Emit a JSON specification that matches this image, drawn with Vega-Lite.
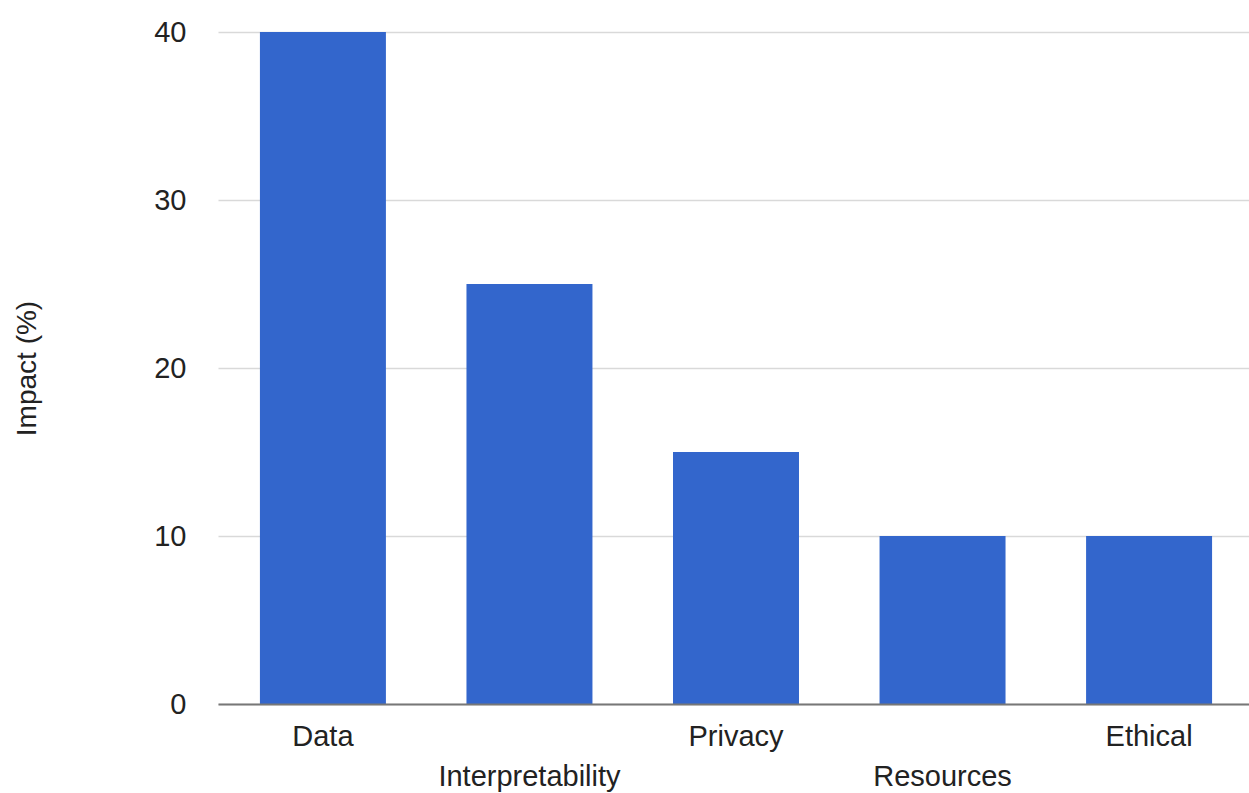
{
  "$schema": "https://vega.github.io/schema/vega-lite/v6.json",
  "width": 1036,
  "height": 672,
  "autosize": "none",
  "padding": {"left": 218, "top": 32, "right": 0, "bottom": 89},
  "background": "white",
  "data": {
    "values": [
      {"category": "Data", "impact": 40},
      {"category": "Interpretability", "impact": 25},
      {"category": "Privacy", "impact": 15},
      {"category": "Resources", "impact": 10},
      {"category": "Ethical", "impact": 10}
    ]
  },
  "config": {
    "view": {"stroke": null},
    "font": "Liberation Sans"
  },
  "mark": {"type": "bar", "color": "#3366CC"},
  "encoding": {
    "x": {
      "field": "category",
      "type": "nominal",
      "sort": null,
      "scale": {"paddingInner": 0.39, "paddingOuter": 0.203},
      "axis": {
        "title": null,
        "labelAngle": 0,
        "labelFontSize": 29,
        "labelColor": "#222222",
        "labelFont": "Liberation Sans",
        "labelLimit": 500,
        "labelOverlap": false,
        "labelBound": false,
        "labelBaseline": "top",
        "labelLineHeight": 40,
        "labelPadding": 18,
        "labelExpr": "indexof(['Interpretability','Resources'], datum.value) >= 0 ? ['', datum.label] : datum.label",
        "ticks": false,
        "tickSize": 0,
        "domain": true,
        "domainColor": "#777777",
        "domainWidth": 2,
        "zindex": 1
      }
    },
    "y": {
      "field": "impact",
      "type": "quantitative",
      "scale": {"domain": [0, 40], "nice": false},
      "axis": {
        "values": [0, 10, 20, 30, 40],
        "title": "Impact (%)",
        "titleFont": "Liberation Sans",
        "titleFontSize": 28,
        "titleFontWeight": "normal",
        "titleColor": "#222222",
        "titleAngle": -90,
        "titleX": -183,
        "titleY": 336,
        "titleAlign": "center",
        "titleBaseline": "alphabetic",
        "labelFontSize": 29,
        "labelFont": "Liberation Sans",
        "labelColor": "#222222",
        "labelPadding": 32,
        "ticks": false,
        "tickSize": 0,
        "domain": false,
        "grid": true,
        "gridColor": "#d9d9d9",
        "gridWidth": 1.5
      }
    }
  }
}
